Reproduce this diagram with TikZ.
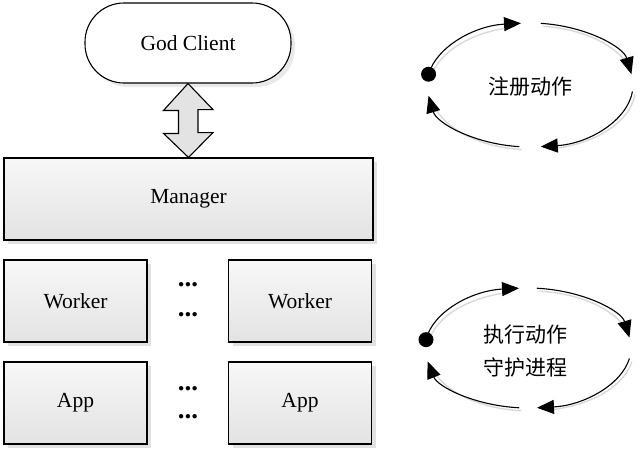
\documentclass[tikz,border=0pt]{standalone}
\usepackage{fontspec}
\setmainfont{Liberation Serif}
\newfontfamily\cjk{Noto Sans CJK SC}
\usetikzlibrary{shadows,arrows.meta,calc}
\begin{document}
\begin{tikzpicture}[x=1pt,y=-1pt,
  txt/.style={font=\fontsize{21.5}{25}\selectfont},
  cjktxt/.style={font=\cjk\fontsize{21}{25}\selectfont},
  box/.style={draw=black, line width=1.1pt, top color=gray!6, bottom color=gray!22,
    minimum height=82pt, inner sep=0pt, txt,
    drop shadow={shadow xshift=4pt, shadow yshift=-4pt, fill=gray!30, opacity=0.8}},
  pill/.style={draw=black, line width=1.1pt, fill=white, rounded corners=39pt,
    minimum width=206pt, minimum height=80pt, inner sep=0pt, txt,
    drop shadow={shadow xshift=4pt, shadow yshift=-4pt, fill=gray!22, opacity=0.8}},
  dots/.style={font=\fontsize{27}{30}\selectfont\bfseries, anchor=base, inner sep=0pt},
  cyc/.style={line width=1.1pt, -{Triangle[length=17pt,width=14pt]}},
  cycsh/.style={line width=1.4pt, draw=gray!30},
  bigarrow/.style={draw=black, line width=1.1pt, fill=gray!22, line join=miter}
]
\useasboundingbox (0,0) rectangle (640,450);

% left stack
\node[pill] (god) at (188,43) {God Client};
\node[box, minimum width=369pt] (mgr) at (188.5,199) {Manager};
\node[box, minimum width=143pt] (w1) at (75.5,301) {Worker};
\node[box, minimum width=143pt] (w2) at (300,301) {Worker};
\node[box, minimum width=143pt] (a1) at (75.5,403) {App};
\node[box, minimum width=143pt] (a2) at (300,403) {App};

\node[dots] (d1) at (188,286.5) {...};
\node[dots] (d2) at (188,316) {...};
\node[dots] (d3) at (188,390) {...};
\node[dots] (d4) at (188,418.5) {...};

% double arrow god <-> manager
\draw[bigarrow] (god.south) -- ++(25,26) -- ++(-15,0) -- ++(0,23) -- ++(15,0)
  -- (mgr.north) -- ++(-25,-24) -- ++(15,0) -- ++(0,-23) -- ++(-15,0) -- cycle;

% cycle 1
\coordinate (c1) at (530,85);
\node[cjktxt] (t1) at (530,87) {注册动作};
\foreach \a/\b in {190/265, 276/350, 6/84, 96/170}{
  \draw[cycsh] ($(c1)+(2.5,3)+(\a:103 and 62)$) arc[start angle=\a, end angle=\b-6, x radius=103, y radius=62];
}
\foreach \a/\b in {190/265, 276/350, 6/84, 96/170}{
  \draw[cyc] ($(c1)+(\a:103 and 62)$) arc[start angle=\a, end angle=\b, x radius=103, y radius=62];
}
\fill ($(c1)+(190:103 and 62)$) circle[radius=7.5pt];

% cycle 2
\coordinate (c2) at (528,348);
\node[cjktxt] (t2) at (525,335) {执行动作};
\node[cjktxt] (t3) at (525,367) {守护进程};
\foreach \a/\b in {188/265, 275/350, 10/85, 95/167}{
  \draw[cycsh] ($(c2)+(2.5,3)+(\a:103 and 60)$) arc[start angle=\a, end angle=\b-6, x radius=103, y radius=60];
}
\foreach \a/\b in {188/265, 275/350, 10/85, 95/167}{
  \draw[cyc] ($(c2)+(\a:103 and 60)$) arc[start angle=\a, end angle=\b, x radius=103, y radius=60];
}
\fill ($(c2)+(188:103 and 60)$) circle[radius=7.5pt];
\end{tikzpicture}
\end{document}
